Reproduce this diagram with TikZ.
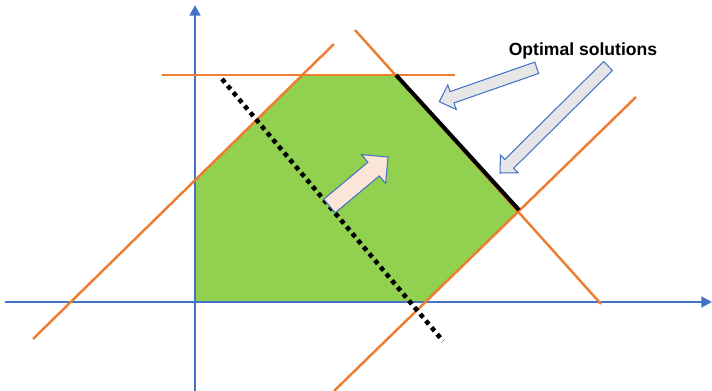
\documentclass[tikz,border=0pt]{standalone}
\usepackage{fontspec}
\setmainfont{Liberation Sans}
\usetikzlibrary{arrows.meta,calc}
\definecolor{axisblue}{RGB}{68,114,196}
\definecolor{lineorange}{RGB}{237,125,49}
\definecolor{feasgreen}{RGB}{146,208,80}
\definecolor{arrowgray}{RGB}{231,230,230}
\definecolor{arrowpeach}{RGB}{251,229,214}

% block arrow: options, tail, tip, shaft half width, head half width, head length
\newcommand{\blockarrow}[6]{%
  \coordinate (ba) at ($(#3)!#6!(#2)$);
  \draw[#1] ($(#2)!#4!90:(#3)$) -- ($(ba)!#4!90:(#3)$) -- ($(ba)!#5!90:(#3)$)
    -- (#3) -- ($(ba)!#5!-90:(#3)$) -- ($(ba)!#4!-90:(#3)$) -- ($(#2)!#4!-90:(#3)$) -- cycle;
}

\tikzset{
  axis/.style={draw=axisblue, line width=1.7pt, -{Triangle[length=6pt, width=6pt]}},
  constraint/.style={draw=lineorange, line width=1.4pt},
  objective/.style={draw=black, line width=2.6pt, dash pattern=on 2.6pt off 2.4pt},
  pointer/.style={draw=axisblue, line width=0.6pt, fill=arrowgray},
  direction/.style={draw=axisblue, line width=0.6pt, fill=arrowpeach}
}

\begin{document}
\begin{tikzpicture}[x=0.02cm, y=-0.02cm]
    \useasboundingbox (0,0) rectangle (712,391);

    % Feasible region
    \coordinate (o) at (195,302);
    \coordinate (p1) at (195,180);
    \coordinate (p2) at (303,75);
    \coordinate (p3) at (396,75);
    \coordinate (p4) at (519,210);
    \coordinate (p5) at (425,302);
    \fill[feasgreen] (o) -- (p1) -- (p2) -- (p3) -- (p4) -- (p5) -- cycle;

    % Axes
    \draw[axis] (5,302) -- (712,302);
    \draw[axis] (195,391) -- (195,5);

    % Constraints
    \draw[constraint] (162,75) -- (455,75);
    \draw[constraint] (33,339) -- (334,44);
    \draw[constraint] (355,30) -- (601,304);
    \draw[constraint] (334,391) -- (636,97);

    % Optimal edge
    \draw[line width=2.3pt] (p3) -- (p4);

    % Objective line
    \draw[objective] (222,79) -- (443,341);

    % Improving direction
    \coordinate (dtail) at (329.5,206);
    \coordinate (dtip) at (388,157);
    \blockarrow{direction}{dtail}{dtip}{0.178cm}{0.376cm}{0.376cm}

    % Label and pointers
    \node[font=\bfseries] (optlabel) at (583,51) {Optimal solutions};
    \coordinate (atail) at (536.7,67.8);
    \coordinate (atip) at (439.3,101.7);
    \blockarrow{pointer}{atail}{atip}{0.12cm}{0.26cm}{0.27cm}
    \coordinate (btail) at (608,66);
    \coordinate (btip) at (500,173);
    \blockarrow{pointer}{btail}{btip}{0.125cm}{0.25cm}{0.26cm}
\end{tikzpicture}
\end{document}
